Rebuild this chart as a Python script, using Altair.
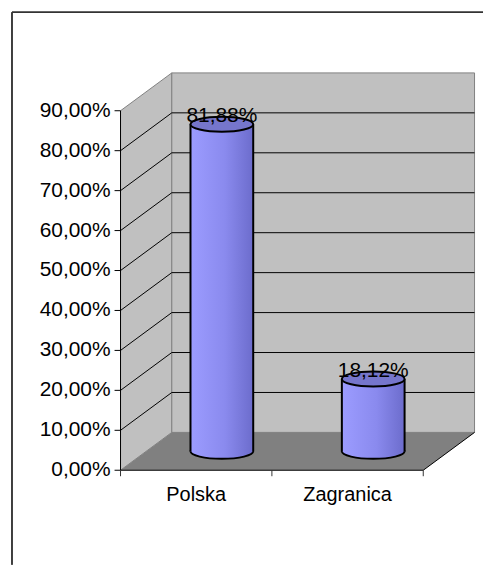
import altair as alt
import pandas as pd

# ---- data ----
categories = ["Polska", "Zagranica"]
values = [0.8188, 0.1812]
tick_values = [0.0, 0.1, 0.2, 0.3, 0.4, 0.5, 0.6, 0.7, 0.8, 0.9]

# ---- geometry / style constants ----
W, H = 473, 555
DX = 0.3388      # depth offset (x units)
DY = 0.0947      # depth offset (y units)
YMAX = tick_values[-1]
N = len(categories)
HALF_W = 0.2072  # cylinder half width (x units)
FONT = "Liberation Sans"
FS = 20
FS_NUM = 21
WALL = "#c0c0c0"
FLOOR = "#808080"
EDGE = "#808080"

XDOM = [-0.7171, 2.3947]
YDOM = [-0.2368, 1.1468]
PXU_X = W / (XDOM[1] - XDOM[0])   # pixels per x unit
PXU_Y = H / (YDOM[1] - YDOM[0])   # pixels per y unit
TICK = 6

xs = alt.Scale(domain=XDOM, nice=False, zero=False)
ys = alt.Scale(domain=YDOM, nice=False, zero=False)


def X(f):
    return alt.X(f, scale=xs, axis=None)


def Y(f):
    return alt.Y(f, scale=ys, axis=None)


body_grad = alt.LinearGradient(
    gradient="linear",
    stops=[alt.GradientStop(color="#9c9cff", offset=0),
           alt.GradientStop(color="#8a8aee", offset=0.55),
           alt.GradientStop(color="#6c6ccc", offset=1)],
    x1=0, x2=1, y1=0, y2=0)
ELLIPSE = "M -1 0 A 1 0.24 0 1 0 1 0 A 1 0.24 0 1 0 -1 0 Z"

# ---- side wall ----
side = pd.DataFrame({"x": [0, DX], "y": [YMAX, YMAX + DY], "y2": [0, DY]})
side_layer = alt.Chart(side).mark_area(
    orient="vertical", fill=WALL, stroke=EDGE, strokeWidth=1
).encode(x=X("x:Q"), y=Y("y:Q"), y2="y2:Q")

# ---- back wall ----
back = pd.DataFrame({"x": [DX], "x2": [N + DX], "y": [DY], "y2": [YMAX + DY]})
back_layer = alt.Chart(back).mark_rect(fill=WALL, stroke=EDGE, strokeWidth=1).encode(
    x=X("x:Q"), x2="x2:Q", y=Y("y:Q"), y2="y2:Q")

# ---- floor ----
floor = pd.DataFrame({"x": [0, DX, N, N + DX], "y": [0, 0, 0, DY], "y2": [0, DY, DY, DY]})
floor_layer = alt.Chart(floor).mark_area(orient="vertical", fill=FLOOR).encode(
    x=X("x:Q"), y=Y("y:Q"), y2="y2:Q")

floor_edge = pd.DataFrame({"x": [0, N, N + DX], "y": [0, 0, DY]})
floor_edge_layer = alt.Chart(floor_edge).mark_line(color="black", strokeWidth=1).encode(
    x=X("x:Q"), y=Y("y:Q"))

# ---- gridlines ----
grid_rows = []
for v in tick_values[1:-1]:
    grid_rows += [{"v": v, "x": 0, "y": v},
                  {"v": v, "x": DX, "y": v + DY},
                  {"v": v, "x": N + DX, "y": v + DY}]
grid = pd.DataFrame(grid_rows)
grid_layer = alt.Chart(grid).mark_line(color="black", strokeWidth=1).encode(
    x=X("x:Q"), y=Y("y:Q"), detail="v:N")

front_edge = pd.DataFrame({"x": [0], "y": [0], "y2": [YMAX]})
front_edge_layer = alt.Chart(front_edge).mark_rule(color="black", strokeWidth=1).encode(
    x=X("x:Q"), y=Y("y:Q"), y2="y2:Q")

# ---- value axis: ticks and labels ----
yt = pd.DataFrame({"v": tick_values})
yt["x"] = 0.0
yt["x2"] = -TICK / PXU_X
yt["label"] = [("%.2f%%" % (v * 100)).replace(".", ",") for v in tick_values]
ytick_layer = alt.Chart(yt).mark_rule(color="black", strokeWidth=1).encode(
    x=X("x:Q"), x2="x2:Q", y=Y("v:Q"))
ylab_layer = alt.Chart(yt).mark_text(
    font=FONT, fontSize=FS_NUM, color="black", align="right", baseline="middle", dx=-10
).encode(x=X("x:Q"), y=Y("v:Q"), text="label:N")

# ---- category axis: ticks and labels ----
xt = pd.DataFrame({"x": list(range(N + 1))})
xt["y"] = 0.0
xt["y2"] = -TICK / PXU_Y
xtick_layer = alt.Chart(xt).mark_rule(color="#333333", strokeWidth=1).encode(
    x=X("x:Q"), y=Y("y:Q"), y2="y2:Q")
xl = pd.DataFrame({"cat": categories, "x": [i + 0.5 for i in range(N)], "y": 0.0})
xlab_layer = alt.Chart(xl).mark_text(
    font=FONT, fontSize=FS, color="black", align="center", baseline="middle", dy=25
).encode(x=X("x:Q"), y=Y("y:Q"), text="cat:N")

# ---- cylinders ----
bars = pd.DataFrame({"cat": categories, "value": values})
bars["xc"] = [i + 0.5 + DX / 2 for i in range(N)]
bars["xl"] = bars["xc"] - HALF_W
bars["xr"] = bars["xc"] + HALF_W
bars["base"] = DY / 2
bars["top"] = bars["value"] + DY / 2
bars["label"] = [("%.2f%%" % (v * 100)).replace(".", ",") for v in values]

ell_size = (2 * HALF_W * PXU_X) ** 2

bottom_ell = alt.Chart(bars).mark_point(
    shape=ELLIPSE, size=ell_size, filled=True, fill=body_grad, stroke="black",
    strokeWidth=2, opacity=1, fillOpacity=1, strokeOpacity=1).encode(
    x=X("xc:Q"), y=Y("base:Q"))

body = alt.Chart(bars).mark_rect(fill=body_grad).encode(
    x=X("xl:Q"), x2="xr:Q", y=Y("base:Q"), y2="top:Q")

sides_l = alt.Chart(bars).mark_rule(color="black", strokeWidth=2).encode(
    x=X("xl:Q"), y=Y("base:Q"), y2="top:Q")
sides_r = alt.Chart(bars).mark_rule(color="black", strokeWidth=2).encode(
    x=X("xr:Q"), y=Y("base:Q"), y2="top:Q")

top_ell = alt.Chart(bars).mark_point(
    shape=ELLIPSE, size=ell_size, filled=True, fill="#7676cc", stroke="black",
    strokeWidth=2, opacity=1, fillOpacity=1, strokeOpacity=1).encode(
    x=X("xc:Q"), y=Y("top:Q"))

labels = alt.Chart(bars).mark_text(
    font=FONT, fontSize=FS_NUM, color="black", baseline="alphabetic", dy=-2).encode(
    x=X("xc:Q"), y=Y("top:Q"), text="label:N")

# ---- outer frame (left and top edges of the chart area) ----
frame_left = alt.Chart(bars).mark_rule(color="#333333", strokeWidth=1.5).encode(
    x=alt.value(0), y=alt.value(0), y2=alt.value(H))
frame_top = alt.Chart(bars).mark_rule(color="#333333", strokeWidth=1.5).encode(
    x=alt.value(0), x2=alt.value(W), y=alt.value(0))

chart = alt.layer(
    side_layer, back_layer, floor_layer, floor_edge_layer, grid_layer,
    front_edge_layer, ytick_layer, ylab_layer, xtick_layer, xlab_layer,
    bottom_ell, body, sides_l, sides_r, top_ell, labels,
    frame_left, frame_top
).properties(
    width=W, height=H,
    padding={"left": 3, "top": 2, "right": 0, "bottom": 0},
).configure_view(stroke=None)

chart.save("out.html", embed_options={"renderer": "svg", "actions": False})
